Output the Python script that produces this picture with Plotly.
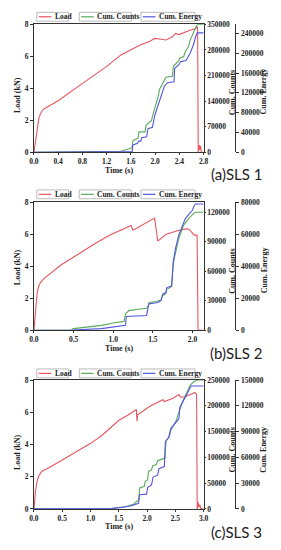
import plotly.graph_objects as go

W, H = 281, 550

series_names = ["Load", "Cum. Counts", "Cum. Energy"]
series_colors = ["#e8555f", "#5aaa5a", "#5555e0"]
panel_labels = ["(a)SLS 1", "(b)SLS 2", "(c)SLS 3"]

# ---------------- Panel (a) SLS 1 ----------------
a_load_t = [0, 0.027, 0.053, 0.080, 0.106, 0.149, 0.213, 0.399, 0.797, 1.201, 1.435, 1.594,
            1.753, 1.913, 1.993, 2.072, 2.179, 2.285, 2.338, 2.391, 2.497, 2.577, 2.630,
            2.667, 2.689, 2.700, 2.710, 2.726, 2.736, 2.747, 2.763, 2.80]
a_load = [0, 0.66, 1.27, 2.09, 2.40, 2.67, 2.81, 3.22, 4.29, 5.37, 6.09, 6.40,
          6.71, 6.95, 7.12, 7.08, 7.02, 7.22, 7.43, 7.36, 7.53, 7.63, 7.69,
          7.73, 7.84, 7.80, 0, 0.45, 0.15, 0.40, 0, 0]
a_counts_t = [0, 1.275, 1.435, 1.594, 1.620, 1.631, 1.700, 1.720, 1.732, 1.833, 1.849, 1.939,
              1.966, 2.009, 2.046, 2.072, 2.125, 2.178, 2.285, 2.300, 2.391, 2.400, 2.471,
              2.497, 2.550, 2.577, 2.614, 2.646, 2.683, 2.710, 2.80]
a_counts = [0, 900, 2700, 10800, 12600, 31400, 37700, 39500, 55600, 55600, 73600, 87000,
            105000, 127400, 149900, 172300, 190200, 205500, 208200, 235100, 250400, 257600, 262000,
            275500, 289000, 306900, 320400, 333800, 347300, 350000, 350000]
a_energy_t = [0, 1.621, 1.631, 1.711, 1.727, 1.764, 1.775, 1.860, 1.881, 1.955, 1.993, 2.046,
              2.099, 2.152, 2.205, 2.311, 2.322, 2.391, 2.418, 2.508, 2.577, 2.630, 2.667,
              2.694, 2.80]
a_energy = [0, 1300, 14600, 17900, 22500, 22500, 29200, 31200, 47700, 50400, 74300, 94100,
            117400, 133900, 140600, 142500, 169700, 177000, 183000, 185600, 200200, 216800, 233400,
            241300, 241300]

# ---------------- Panel (b) SLS 2 ----------------
b_load_t = [0, 0.020, 0.041, 0.061, 0.081, 0.122, 0.345, 0.548, 0.751, 0.953, 1.136, 1.225,
            1.249, 1.379, 1.521, 1.562, 1.663, 1.785, 1.866, 1.927, 1.968, 1.996, 2.020,
            2.057, 2.069, 2.14]
b_load = [0, 1.33, 2.36, 2.77, 2.97, 3.22, 4.10, 4.72, 5.37, 5.95, 6.36, 6.56,
          6.26, 6.61, 7.02, 5.58, 5.99, 6.19, 6.30, 6.36, 6.26, 6.05, 5.95,
          5.95, 0, 0]
b_counts_t = [0, 0.467, 0.499, 0.690, 0.852, 1.014, 1.136, 1.156, 1.197, 1.339, 1.420, 1.440,
              1.452, 1.542, 1.602, 1.623, 1.663, 1.675, 1.736, 1.757, 1.785, 1.826, 1.886,
              1.947, 2.008, 2.037, 2.14]
b_counts = [0, 0, 1700, 3300, 5000, 7700, 9000, 16700, 20000, 21700, 22300, 25000,
            28300, 29300, 30700, 35000, 37300, 41700, 44300, 68300, 80000, 93300, 106700,
            113300, 118300, 120000, 120000]
b_energy_t = [0, 0.487, 0.852, 1.156, 1.164, 1.420, 1.432, 1.448, 1.562, 1.602, 1.623, 1.663,
              1.675, 1.736, 1.757, 1.785, 1.826, 1.866, 1.907, 1.968, 1.996, 2.020, 2.037, 2.14]
b_energy = [0, 200, 1000, 3100, 8600, 9200, 12300, 16400, 17400, 18500, 22600, 23600,
            26700, 27700, 43100, 51300, 59500, 64600, 69700, 73400, 74900, 77900, 79000, 79000]

# ---------------- Panel (c) SLS 3 ----------------
c_load_t = [0, 0.028, 0.057, 0.085, 0.142, 0.256, 0.501, 0.768, 1.002, 1.195, 1.503, 1.651,
            1.810, 1.822, 1.833, 2.049, 2.277, 2.305, 2.448, 2.562, 2.590, 2.676, 2.761,
            2.846, 2.875, 2.886, 2.903, 2.915, 2.932, 2.949, 3.0]
c_load = [0, 1.12, 1.73, 2.04, 2.34, 2.54, 3.03, 3.56, 4.07, 4.54, 5.50, 5.80,
          6.17, 5.44, 5.84, 6.37, 6.78, 6.66, 6.86, 7.10, 6.94, 6.96, 7.12,
          7.23, 7.12, 0, 0.41, 0.10, 0.26, 0, 0]
c_counts_t = [0, 1.366, 1.594, 1.765, 1.850, 1.873, 1.947, 1.970, 2.009, 2.027, 2.078, 2.101,
              2.163, 2.186, 2.249, 2.317, 2.334, 2.391, 2.419, 2.476, 2.516, 2.562, 2.607,
              2.647, 2.704, 2.761, 2.818, 2.886, 3.0]
c_counts = [0, 600, 3200, 9500, 17200, 41300, 43300, 54100, 56600, 73200, 75700, 84000,
            85900, 93500, 96100, 98600, 131700, 139900, 152700, 165400, 171700, 187600, 203600,
            213100, 225800, 239800, 246200, 250000, 250000]
c_energy_t = [0, 1.366, 1.708, 1.850, 1.867, 1.992, 2.009, 2.078, 2.106, 2.186, 2.209, 2.305,
              2.323, 2.379, 2.419, 2.505, 2.562, 2.579, 2.647, 2.704, 2.761, 2.789, 3.0]
c_energy = [0, 400, 3400, 6500, 16400, 17200, 24800, 27900, 37000, 39300, 46900, 49200,
            78200, 82800, 93500, 100400, 105000, 118300, 126000, 133600, 141200, 143100, 143100]

# axis settings per panel
x_ranges = [[0, 2.8], [0, 2.14], [0, 3.0]]
x_dticks = [0.4, 0.5, 0.5]
counts_ranges = [[0, 350000], [0, 130000], [0, 250000]]
counts_dticks = [70000, 30000, 50000]
energy_ranges = [[0, 258500], [0, 80000], [0, 150000]]
energy_dticks = [40000, 20000, 30000]

data = [
    (a_load_t, a_load, a_counts_t, a_counts, a_energy_t, a_energy),
    (b_load_t, b_load, b_counts_t, b_counts, b_energy_t, b_energy),
    (c_load_t, c_load, c_counts_t, c_counts, c_energy_t, c_energy),
]

# layout geometry (pixels)
panel_top = [20.7, 201.7, 382.3]
panel_bottom = [150.7, 331.7, 513.3]
plot_left, plot_right, energy_axis_x = 30, 206, 239
legend_y = [13, 193.5, 375.5]
xtitle_y = [169, 350, 531.5]
load_title_y = [93, 268, 456]
counts_title_y = [90, 271.7, 453.3]
energy_title_y = [89, 270.7, 453.3]
caption_y = [173.3, 355, 536.7]


def px(x):
    return x / W


def py(y):
    return 1 - y / H


serif = "Liberation Serif"
tickfont = dict(family=serif, size=7.5, color="#222", weight="bold")
titlefont = dict(family=serif, size=8, color="#222", weight="bold")
axis_line = "#333"

fig = go.Figure()
layout = {}
annotations = []
shapes = []

for p in range(3):
    xname = "x" if p == 0 else f"x{p + 1}"
    xkey = "xaxis" if p == 0 else f"xaxis{p + 1}"
    ids = [3 * p + 1, 3 * p + 2, 3 * p + 3]
    ynames = ["y" if i == 1 else f"y{i}" for i in ids]
    ykeys = ["yaxis" if i == 1 else f"yaxis{i}" for i in ids]
    lt, lv, ct, cv, et, ev = data[p]

    fig.add_trace(go.Scatter(x=lt, y=lv, mode="lines", name=series_names[0],
                             line=dict(color=series_colors[0], width=1.1),
                             xaxis=xname, yaxis=ynames[0], showlegend=False))
    fig.add_trace(go.Scatter(x=ct, y=cv, mode="lines", name=series_names[1],
                             line=dict(color=series_colors[1], width=1.1),
                             xaxis=xname, yaxis=ynames[1], showlegend=False))
    fig.add_trace(go.Scatter(x=et, y=ev, mode="lines", name=series_names[2],
                             line=dict(color=series_colors[2], width=1.1),
                             xaxis=xname, yaxis=ynames[2], showlegend=False))

    dom_y = [py(panel_bottom[p]), py(panel_top[p])]
    layout[xkey] = dict(domain=[px(plot_left), px(plot_right)], anchor=ynames[0],
                        range=x_ranges[p], dtick=x_dticks[p], tick0=0, tickformat=".1f",
                        showline=True, linecolor=axis_line, linewidth=1, mirror=True,
                        ticks="outside", ticklen=2, tickcolor=axis_line,
                        showgrid=False, zeroline=False, tickfont=tickfont)
    layout[ykeys[0]] = dict(domain=dom_y, anchor=xname, range=[0, 8], dtick=2,
                            showline=True, linecolor=axis_line, linewidth=1, mirror=True,
                            ticks="outside", ticklen=3, tickcolor=axis_line,
                            showgrid=False, zeroline=False, tickfont=tickfont)
    layout[ykeys[1]] = dict(overlaying=ynames[0], anchor=xname, side="right",
                            range=counts_ranges[p], dtick=counts_dticks[p], tickformat="d",
                            showline=True, linecolor=axis_line, linewidth=1,
                            ticks="outside", ticklen=1, tickcolor=axis_line,
                            showgrid=False, zeroline=False, tickfont=tickfont)
    layout[ykeys[2]] = dict(overlaying=ynames[0], anchor="free", position=px(energy_axis_x),
                            side="right", range=energy_ranges[p], dtick=energy_dticks[p],
                            tickformat="d", showline=True, linecolor=axis_line, linewidth=1,
                            ticks="outside", ticklen=3, tickcolor=axis_line,
                            showgrid=False, zeroline=False, tickfont=tickfont)

    # axis titles
    annotations.append(dict(text="Time (s)", x=px((plot_left + plot_right) / 2), y=py(xtitle_y[p]),
                            xref="paper", yref="paper", showarrow=False, font=titlefont,
                            xanchor="center", yanchor="middle"))
    annotations.append(dict(text="Load (kN)", x=px(13), y=py(load_title_y[p]), textangle=-90,
                            xref="paper", yref="paper", showarrow=False, font=titlefont,
                            xanchor="center", yanchor="middle"))
    annotations.append(dict(text=series_names[1], x=px(236), y=py(counts_title_y[p]), textangle=-90,
                            xref="paper", yref="paper", showarrow=False, font=titlefont,
                            xanchor="center", yanchor="middle"))
    annotations.append(dict(text=series_names[2], x=px(268.5), y=py(energy_title_y[p]), textangle=-90,
                            xref="paper", yref="paper", showarrow=False, font=titlefont,
                            xanchor="center", yanchor="middle"))
    # caption
    annotations.append(dict(text=panel_labels[p], x=px(240), y=py(caption_y[p]),
                            xref="paper", yref="paper", showarrow=False,
                            font=dict(family="Lato", size=15, color="#222"),
                            xanchor="center", yanchor="middle"))

    # legend (one framed box per series)
    box_x = [(33, 66), (77, 131), (141, 197)]
    line_x = [(35, 48), (79, 92), (143, 156)]
    ly = legend_y[p]
    for k in range(3):
        shapes.append(dict(type="rect", xref="paper", yref="paper",
                           x0=px(box_x[k][0]), x1=px(box_x[k][1]),
                           y0=py(ly - 4.5), y1=py(ly + 4.5),
                           line=dict(color="#bbbbbb", width=1), fillcolor="white"))
        shapes.append(dict(type="line", xref="paper", yref="paper",
                           x0=px(line_x[k][0]), x1=px(line_x[k][1]), y0=py(ly), y1=py(ly),
                           line=dict(color=series_colors[k], width=1.2)))
        annotations.append(dict(text=series_names[k], x=px(line_x[k][1] + 1.5), y=py(ly),
                                xref="paper", yref="paper", showarrow=False,
                                font=dict(family=serif, size=7.5, color="#222", weight="bold"),
                                xanchor="left", yanchor="middle"))

fig.update_layout(**layout)
fig.update_layout(width=W, height=H, autosize=False,
                  margin=dict(l=0, r=0, t=0, b=0),
                  paper_bgcolor="white", plot_bgcolor="white",
                  showlegend=False, annotations=annotations, shapes=shapes)

fig.write_html("out.html", config={"displayModeBar": False},
               post_script="document.body.style.margin='0';document.body.style.padding='0';")
